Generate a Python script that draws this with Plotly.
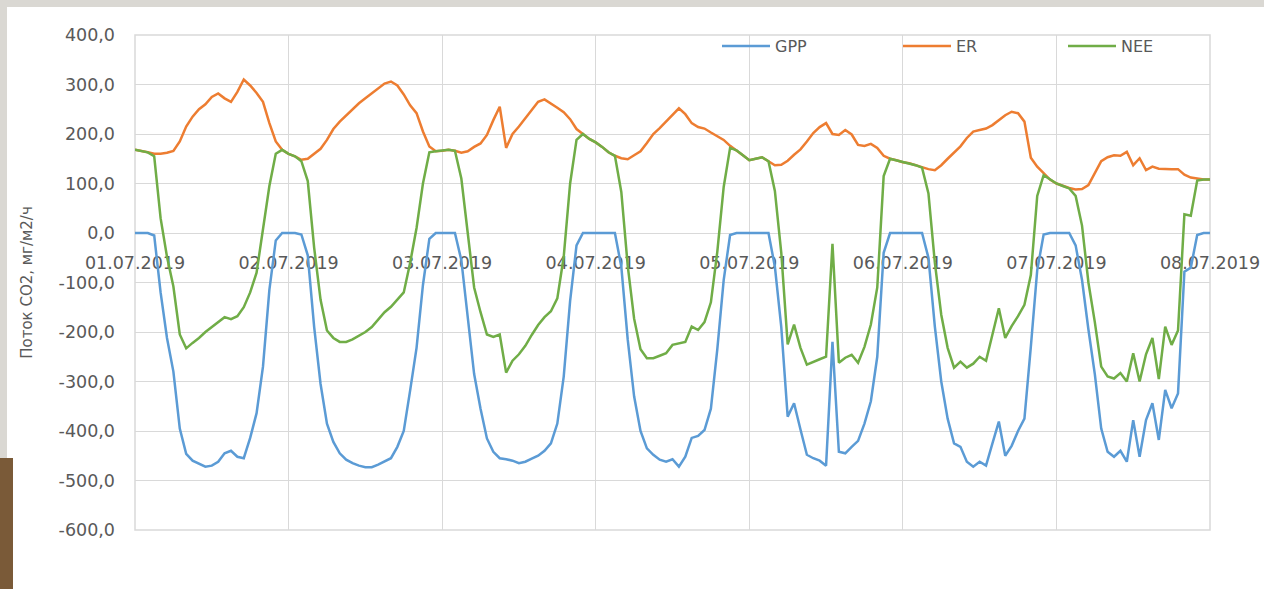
import pandas as pd
import plotly.graph_objects as go

# ---------------- data (hourly values, 01.07.2019 00:00 .. 08.07.2019 00:00) -------------
day_labels = ["01.07.2019", "02.07.2019", "03.07.2019", "04.07.2019",
              "05.07.2019", "06.07.2019", "07.07.2019", "08.07.2019"]
start = "2019-07-01 00:00"

y_tick_values = [400, 300, 200, 100, 0, -100, -200, -300, -400, -500, -600]
y_tick_labels = ["400,0", "300,0", "200,0", "100,0", "0,0", "-100,0",
                 "-200,0", "-300,0", "-400,0", "-500,0", "-600,0"]

gpp = [
    0, 0, 0, -5, -120, -212, -280, -395, -446, -460, -466, -472, -470, -462, -445, -440, -452, -455, -414, -364, -270, -115, -15, 0,
    0, 0, -3, -45, -190, -305, -385, -422, -445, -458, -465, -470, -473, -473, -468, -462, -455, -432, -400, -318, -232, -105, -12, 0,
    0, 0, 0, -55, -176, -285, -355, -415, -442, -455, -457, -460, -465, -462, -456, -450, -440, -425, -385, -290, -137, -25, 0, 0,
    0, 0, 0, 0, -68, -215, -330, -400, -435, -448, -458, -462, -457, -472, -452, -414, -410, -398, -355, -235, -95, -4, 0, 0,
    0, 0, 0, 0, -68, -190, -371, -344, -397, -448, -455, -460, -470, -220, -442, -445, -432, -420, -385, -340, -250, -40, 0, 0,
    0, 0, 0, 0, -50, -189, -300, -375, -425, -432, -462, -472, -462, -470, -425, -381, -450, -430, -400, -375, -230, -75, -3, 0,
    0, 0, 0, -25, -95, -195, -285, -395, -442, -452, -440, -462, -378, -452, -378, -344, -418, -317, -354, -324, -78, -70, -4, 0,
    0,
]

er = [
    168, 166, 163, 160, 160, 162, 166, 185, 215, 235, 250, 260, 275, 282, 272, 265, 285, 310, 298, 283, 265, 222, 185, 168,
    160, 155, 148, 150, 160, 170, 188, 210, 225, 238, 250, 262, 272, 282, 293, 302, 306, 298, 280, 258, 242, 205, 175, 165,
    166, 168, 166, 162, 165, 174, 181, 198, 228, 255, 172, 200, 215, 232, 250, 265, 270, 262, 253, 244, 230, 210, 200, 190,
    183, 174, 163, 156, 151, 149, 157, 165, 182, 200, 212, 225, 240, 252, 240, 222, 214, 211, 203, 196, 188, 176, 167, 157,
    147, 150, 153, 145, 137, 138, 146, 158, 169, 185, 202, 214, 222, 200, 198, 208, 199, 178, 176, 180, 172, 156, 150, 147,
    143, 141, 137, 132, 129, 127, 137, 150, 162, 175, 192, 205, 208, 211, 218, 228, 238, 245, 242, 225, 152, 134, 120, 108,
    100, 95, 91, 88, 89, 97, 122, 145, 153, 157, 156, 164, 137, 151, 127, 134, 130, 129, 129, 129, 118, 112, 110, 108,
    108,
]

nee = [
    168, 166, 163, 155, 30, -48, -108, -205, -233, -222, -212, -200, -190, -180, -170, -174, -168, -150, -120, -80, 5, 95, 160, 168,
    160, 155, 145, 105, -30, -135, -197, -212, -220, -220, -215, -208, -200, -190, -175, -160, -149, -134, -120, -60, 10, 100, 163, 165,
    166, 168, 166, 110, 0, -110, -160, -205, -210, -205, -282, -258, -245, -228, -206, -186, -170, -158, -132, -48, 100, 188, 200, 190,
    183, 174, 163, 156, 83, -66, -173, -235, -253, -253, -248, -243, -226, -223, -220, -189, -196, -180, -140, -38, 93, 172, 167, 157,
    147, 150, 153, 145, 85, -40, -225, -185, -232, -266, -260, -255, -250, -22, -262, -252, -246, -262, -230, -185, -110, 115, 150, 147,
    143, 141, 137, 132, 80, -60, -165, -232, -272, -260, -272, -264, -250, -258, -205, -152, -212, -188, -168, -145, -85, 75, 117, 108,
    100, 95, 90, 75, 15, -100, -180, -270, -290, -294, -283, -300, -243, -300, -245, -212, -295, -189, -226, -197, 38, 35, 106, 108,
    108,
]

y_title = "Поток CO2, мг/м2/ч"

# ---------------- layout geometry ----------------
W, H = 1264, 589
L, R, T, B = 135, 54, 35, 59
PW, PH = W - L - R, H - T - B


def fx(px):
    return (px - L) / PW


def fy(py):
    return (H - B - py) / PH


times = pd.date_range(start, periods=len(gpp), freq="h")
day_ticks = pd.date_range(start, periods=len(day_labels), freq="D")

TXT = "#595959"
GRID = "#D9D9D9"
FONT = "DejaVu Sans"

fig = go.Figure()
fig.add_trace(go.Scatter(x=times, y=gpp, mode="lines", name="GPP",
                         line=dict(color="#5B9BD5", width=2.5), legend="legend"))
fig.add_trace(go.Scatter(x=times, y=er, mode="lines", name="ER",
                         line=dict(color="#ED7D31", width=2.5), legend="legend2"))
fig.add_trace(go.Scatter(x=times, y=nee, mode="lines", name="NEE",
                         line=dict(color="#70AD47", width=2.5), legend="legend3"))

leg_common = dict(orientation="h", xanchor="left", yanchor="middle", y=fy(46),
                  bgcolor="rgba(0,0,0,0)", font=dict(family=FONT, size=16, color=TXT),
                  itemwidth=48, visible=True)

fig.update_layout(
    width=W, height=H,
    margin=dict(l=L, r=R, t=T, b=B, autoexpand=False),
    paper_bgcolor="white", plot_bgcolor="white",
    showlegend=True,
    font=dict(family=FONT, size=16, color=TXT),
    legend=dict(leg_common, x=fx(717)),
    legend2=dict(leg_common, x=fx(898)),
    legend3=dict(leg_common, x=fx(1063)),
    xaxis=dict(
        type="date",
        range=[day_ticks[0], day_ticks[-1]],
        tickmode="array", tickvals=list(day_ticks), ticktext=day_labels,
        showgrid=True, gridcolor=GRID, gridwidth=1,
        anchor="free", position=0.6,
        showline=True, linecolor=GRID, linewidth=1,
        ticks="", ticklabelstandoff=14,
        tickfont=dict(family=FONT, size=17.5, color=TXT),
        zeroline=False, automargin=False, layer="below traces",
    ),
    yaxis=dict(
        range=[-600, 400],
        tickmode="array", tickvals=y_tick_values, ticktext=y_tick_labels,
        showgrid=True, gridcolor=GRID, gridwidth=1,
        zeroline=False, showline=False,
        ticks="", ticklabelstandoff=19,
        tickfont=dict(family=FONT, size=17.5, color=TXT),
        title=dict(text=y_title, standoff=22, font=dict(family=FONT, size=15, color=TXT)),
        automargin=False,
    ),
    shapes=[
        # plot-area frame
        dict(type="rect", xref="paper", yref="paper", x0=0, x1=1, y0=0, y1=1,
             line=dict(color=GRID, width=1.5), layer="below"),
        # photo edges around the slide
        dict(type="rect", xref="paper", yref="paper", x0=fx(0), x1=fx(W), y0=fy(7), y1=fy(0),
             line=dict(width=0), fillcolor="#DAD8D3", layer="below"),
        dict(type="rect", xref="paper", yref="paper", x0=fx(0), x1=fx(7), y0=fy(458), y1=fy(0),
             line=dict(width=0), fillcolor="#DAD8D3", layer="below"),
        dict(type="rect", xref="paper", yref="paper", x0=fx(0), x1=fx(13), y0=fy(H), y1=fy(458),
             line=dict(width=0), fillcolor="#7A5A38", layer="below"),
    ],
)

fig.write_html(
    "out.html",
    config={"displayModeBar": False},
    post_script="document.body.style.margin='0';document.documentElement.style.overflow='hidden';",
)
